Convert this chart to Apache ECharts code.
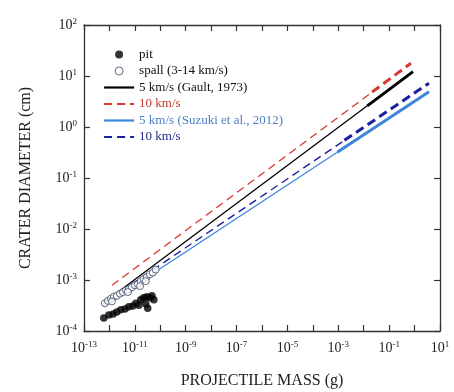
<!DOCTYPE html>
<html>
<head>
<meta charset="utf-8">
<script src="https://cdn.jsdelivr.net/npm/echarts@6/dist/echarts.min.js"></script>
<style>html,body{margin:0;padding:0;background:#fff}#c{width:454px;height:392px}</style>
</head>
<body>
<div id="c"></div>
<script>
// Pit craters (filled)
const pitMass = [6e-13, 9.5e-13, 1.4e-12, 1.95e-12, 2.8e-12, 4.1e-12, 5.8e-12, 8.3e-12, 1.1e-11, 1.43e-11, 1.7e-11, 2.2e-11, 2.95e-11, 3.9e-11, 4.7e-11, 2.7e-11, 3.2e-11, 5.6e-11];
const pitDiam = [1.8e-4, 2.05e-4, 2.15e-4, 2.35e-4, 2.6e-4, 2.7e-4, 3.0e-4, 3.1e-4, 3.5e-4, 3.2e-4, 4.1e-4, 4.5e-4, 4.7e-4, 4.5e-4, 4.9e-4, 3.4e-4, 2.8e-4, 4.1e-4];
// Spall craters (open)
const spallMass = [6.6e-13, 8.7e-13, 1.15e-12, 1.5e-12, 1.95e-12, 2.6e-12, 3.4e-12, 4.5e-12, 5.8e-12, 7.6e-12, 1e-11, 1.3e-11, 1.7e-11, 2.2e-11, 2.95e-11, 3.9e-11, 5.1e-11, 6.6e-11, 1.25e-12, 5.3e-12, 1.6e-11, 2.7e-11];
const spallDiam = [3.5e-4, 3.9e-4, 4.3e-4, 4.7e-4, 4.9e-4, 5.4e-4, 5.8e-4, 6.3e-4, 6.6e-4, 7.2e-4, 7.9e-4, 8.3e-4, 9.5e-4, 1.05e-3, 1.15e-3, 1.3e-3, 1.4e-3, 1.6e-3, 3.8e-4, 5.8e-4, 7.6e-4, 9.5e-4];
// Scaling lines: [start, thick-start, end]
const gault5Mass = [5.6e-13, 1.38e-2, 0.87];
const gault5Diam = [3.5e-4, 2.6, 12.2];
const gault10Mass = [1.26e-12, 2.14e-2, 0.72];
const gault10Diam = [7.9e-4, 4.84, 17.8];
const suzuki5Mass = [5.6e-13, 9.1e-4, 3.7];
const suzuki5Diam = [3.05e-4, 0.32, 4.9];
const suzuki10Mass = [1e-12, 1.74e-3, 3.7];
const suzuki10Diam = [4.2e-4, 0.547, 7.24];
const xTickExps = [-13, -11, -9, -7, -5, -3, -1, 1];
const yTickExps = [-4, -3, -2, -1, 0, 1, 2];

const legendText = {pit:'pit', spall:'spall (3-14 km/s)', g5:'5 km/s (Gault, 1973)', g10:'10 km/s', s5:'5 km/s (Suzuki et al., 2012)', s10:'10 km/s'};
const C = {red:'#d93a2f', redT:'#c23b30', blue:'#3d85db', blueT:'#4a7fc6', dblue:'#1b1f9a', dblueT:'#262a8c'};

function pairs(a, b) { return a.map((v, i) => [v, b[i]]); }
function seg(m, d, i, j) { return [[m[i], d[i]], [m[j], d[j]]]; }
function supLabelFrom(list) {
  return function (v) {
    const e = Math.round(Math.log10(v));
    return list.indexOf(e) >= 0 ? '{b|10}{s|' + e + '}' : '';
  };
}
const rich = {
  b: {fontFamily: 'Liberation Serif', fontSize: 14, color: '#222', lineHeight: 16},
  s: {fontFamily: 'Liberation Serif', fontSize: 9, color: '#222', verticalAlign: 'top', lineHeight: 9}
};
const axisLineStyle = {color: '#333', width: 1.3};

function lineSeries(name, m, d, color, dashed, thin, thick) {
  const t = dashed ? [8, 5] : 'solid';
  return [
    {name: name, type: 'line', data: seg(m, d, 0, 1), symbol: 'none', silent: true,
     lineStyle: {color: color, width: thin, type: t}, itemStyle: {color: color}, z: 3},
    {name: name + '_thick', type: 'line', data: seg(m, d, 1, 2), symbol: 'none', silent: true,
     lineStyle: {color: color, width: thick, type: dashed ? [9, 5] : 'solid'}, itemStyle: {color: color}, z: 3}
  ];
}

const chart = echarts.init(document.getElementById('c'), null, {renderer: 'canvas'});
chart.setOption({
  animation: false,
  backgroundColor: '#fff',
  grid: {left: 84, right: 14, top: 25, bottom: 61, outerBoundsMode: 'none', containLabel: false},
  xAxis: [
    {type: 'log', logBase: 10, min: 1e-13, max: 10, interval: 1, position: 'bottom',
     name: 'PROJECTILE MASS (g)', nameLocation: 'middle', nameGap: 42,
     nameTextStyle: {fontFamily: 'Liberation Serif', fontSize: 16, color: '#222'},
     axisLine: {lineStyle: axisLineStyle},
     axisTick: {inside: true, length: 6, interval: 0, lineStyle: {color: '#333', width: 1.2}},
     axisLabel: {interval: 0, margin: 9, hideOverlap: false, showMinLabel: true, showMaxLabel: true,
                 formatter: supLabelFrom(xTickExps), rich: rich},
     splitLine: {show: false}, minorTick: {show: false}},
    {type: 'log', logBase: 10, min: 1e-13, max: 10, interval: 1, position: 'top',
     axisLine: {lineStyle: axisLineStyle},
     axisTick: {inside: true, length: 6, interval: 0, lineStyle: {color: '#333', width: 1.2}},
     axisLabel: {show: false}, splitLine: {show: false}}
  ],
  yAxis: [
    {type: 'log', logBase: 10, min: 1e-4, max: 100, interval: 1, position: 'left',
     name: 'CRATER DIAMETER (cm)', nameLocation: 'middle', nameGap: 50, nameRotate: 90,
     nameTextStyle: {fontFamily: 'Liberation Serif', fontSize: 16, color: '#222'},
     axisLine: {lineStyle: axisLineStyle},
     axisTick: {inside: true, length: 6, lineStyle: {color: '#333', width: 1.2}},
     axisLabel: {margin: 7, formatter: supLabelFrom(yTickExps), rich: rich},
     splitLine: {show: false}},
    {type: 'log', logBase: 10, min: 1e-4, max: 100, interval: 1, position: 'right',
     axisLine: {lineStyle: axisLineStyle},
     axisTick: {inside: true, length: 6, lineStyle: {color: '#333', width: 1.2}},
     axisLabel: {show: false}, splitLine: {show: false}}
  ],
  legend: {
    orient: 'vertical', left: 103, top: 48, padding: 0, itemGap: 3.5,
    itemWidth: 30, itemHeight: 8, selectedMode: false,
    formatter: n => legendText[n],
    textStyle: {fontFamily: 'Liberation Serif', fontSize: 13, lineHeight: 13, color: '#111'},
    data: [
      {name: 'pit', icon: 'circle'},
      {name: 'spall', icon: 'circle', itemStyle: {borderWidth: 1}},
      {name: 'g5', lineStyle: {width: 2.2}, itemStyle: {opacity: 0}},
      {name: 'g10', lineStyle: {width: 2.2}, itemStyle: {opacity: 0}, textStyle: {color: C.redT}},
      {name: 's5', lineStyle: {width: 2.2}, itemStyle: {opacity: 0}, textStyle: {color: C.blueT}},
      {name: 's10', lineStyle: {width: 2.2}, itemStyle: {opacity: 0}, textStyle: {color: C.dblueT}}
    ]
  },
  series: [
    ...lineSeries('g5', gault5Mass, gault5Diam, '#000', false, 1.3, 3),
    ...lineSeries('g10', gault10Mass, gault10Diam, C.red, true, 1.4, 3),
    ...lineSeries('s5', suzuki5Mass, suzuki5Diam, C.blue, false, 1.3, 3),
    ...lineSeries('s10', suzuki10Mass, suzuki10Diam, C.dblue, true, 1.4, 3),
    {name: 'spall', type: 'scatter', data: pairs(spallMass, spallDiam), symbol: 'circle', symbolSize: 7,
     itemStyle: {color: '#fff', borderColor: '#3a4866', borderWidth: 1}, z: 4},
    {name: 'pit', type: 'scatter', data: pairs(pitMass, pitDiam), symbol: 'circle', symbolSize: 7.5,
     itemStyle: {color: '#000'}, z: 5}
  ]
});
</script>
</body>
</html>
